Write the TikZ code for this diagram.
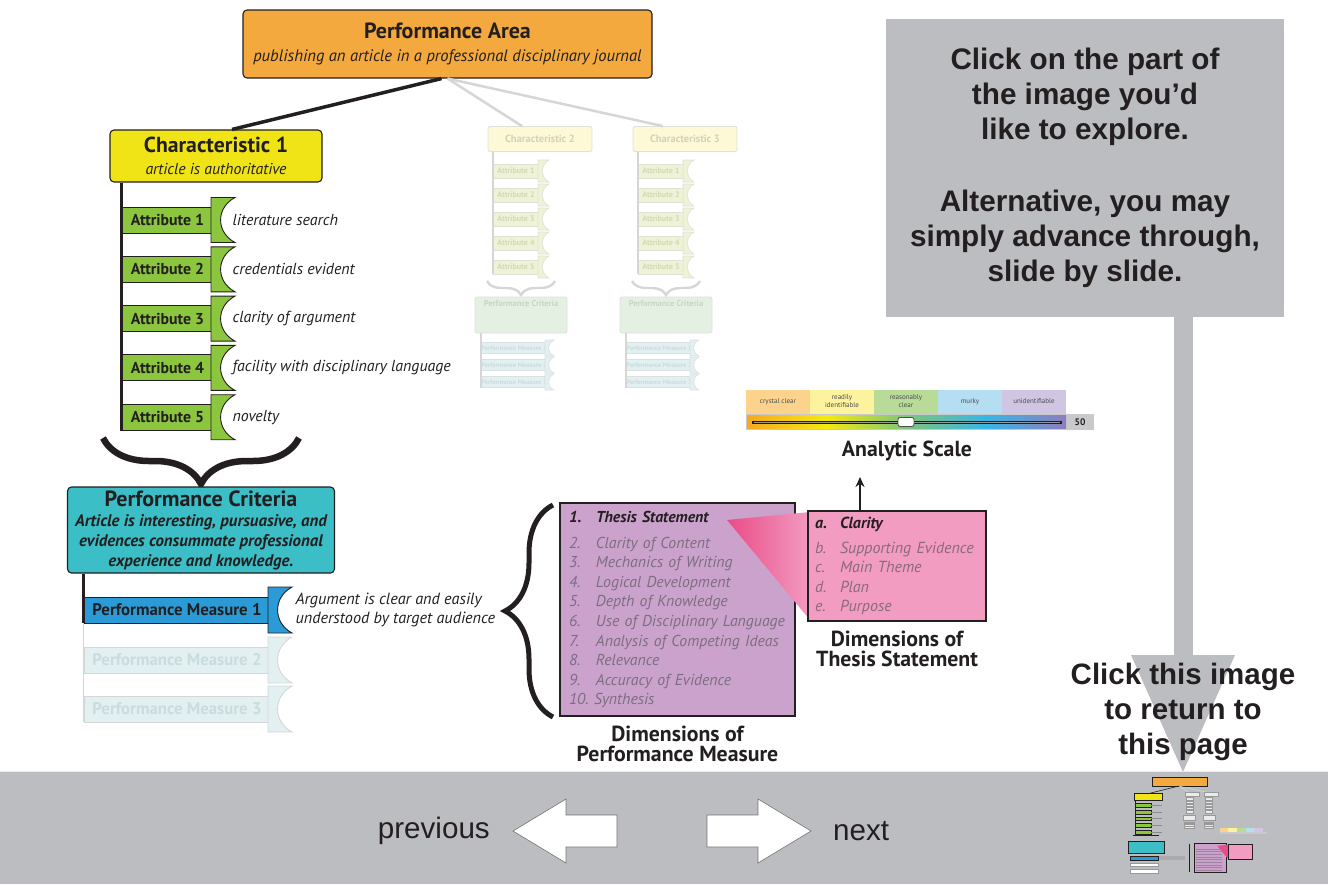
\documentclass[tikz,border=0pt]{standalone}
\usepackage{fontspec}
\setmainfont{PT Sans}
\newfontfamily\arialfont{Liberation Sans}
\usetikzlibrary{positioning,decorations.pathreplacing,arrows.meta}

\definecolor{ink}{HTML}{231F20}
\definecolor{paorange}{HTML}{F4A93E}
\definecolor{chyellow}{HTML}{F0E417}
\definecolor{attrgreen}{HTML}{8CC63F}
\definecolor{critteal}{HTML}{3CBEC6}
\definecolor{pmblue}{HTML}{2B9BD7}
\definecolor{dimpurple}{HTML}{CBA2CC}
\definecolor{dimgrey}{HTML}{7C6E80}
\definecolor{thpink}{HTML}{F29CC2}
\definecolor{thdeep}{HTML}{E94C86}
\definecolor{thgrey}{HTML}{8A6A7C}
\definecolor{panelgrey}{HTML}{BCBDC1}
\definecolor{fadeline}{HTML}{D6D6D6}
\definecolor{fadeyellow}{HTML}{FDF8D6}
\definecolor{fadeyellowtxt}{HTML}{D4D1B8}
\definecolor{fadegreen}{HTML}{EEF2D6}
\definecolor{fadegreentxt}{HTML}{D3D9B4}
\definecolor{fadecrit}{HTML}{E4F1E2}
\definecolor{fadecrittxt}{HTML}{C6D7C3}
\definecolor{fadepm}{HTML}{E2F0F2}
\definecolor{fadepmtxt}{HTML}{CADCDF}
\definecolor{scA}{HTML}{FCD38D}
\definecolor{scB}{HTML}{FDF29E}
\definecolor{scC}{HTML}{B8DB98}
\definecolor{scD}{HTML}{B5DEF3}
\definecolor{scE}{HTML}{D0C6E4}
\definecolor{grA}{HTML}{F7A823}
\definecolor{grB}{HTML}{F5E90F}
\definecolor{grC}{HTML}{7CC57A}
\definecolor{grD}{HTML}{39B5E6}
\definecolor{grE}{HTML}{8E7DBE}
\definecolor{scalebar}{HTML}{C9C9CB}

\pgfdeclarehorizontalshading{scalegrad}{100bp}{color(0bp)=(grA); color(25bp)=(grA);
  color(37.5bp)=(grB); color(50bp)=(grC); color(62.5bp)=(grD); color(75bp)=(grE); color(100bp)=(grE)}

% tab that sits on the right end of a bar
\newcommand{\capat}[5]{\draw[#5] (#1,#2-#3) -- (#1+#4,#2-#3)
  .. controls (#1+0.2*#4,#2-0.55*#3) and (#1+0.2*#4,#2+0.55*#3) .. (#1+#4,#2+#3)
  -- (#1,#2+#3) -- cycle;}

\begin{document}
\begin{tikzpicture}[x=1pt, y=-1pt,
    every node/.style={text=ink},
    box/.style={draw=ink, line width=1.1pt, rounded corners=4pt, align=center, inner sep=1pt},
    pabox/.style={box, fill=paorange, minimum width=409, minimum height=68,
      font=\fontsize{16.6}{23}\selectfont},
    charbox/.style={box, fill=chyellow, minimum width=212, minimum height=52,
      font=\fontsize{15.8}{22}\selectfont},
    critbox/.style={box, fill=critteal, minimum width=267, minimum height=86,
      font=\fontsize{16.8}{20}\selectfont\bfseries\itshape},
    spine/.style={draw=ink, line width=2.2pt},
    fspine/.style={draw=fadeline, line width=1.6pt},
    attrbox/.style={draw=ink, line width=0.9pt, fill=attrgreen, minimum width=91,
      minimum height=26, inner sep=0pt, font=\fontsize{15.8}{17}\selectfont\bfseries},
    attrcap/.style={draw=ink, line width=0.9pt, fill=attrgreen},
    attrtext/.style={inner sep=0pt, font=\fontsize{15.9}{20}\selectfont\itshape},
    pmbox/.style={draw=ink, line width=0.9pt, fill=pmblue, minimum width=186,
      minimum height=26, inner sep=0pt, font=\fontsize{16.8}{18}\selectfont\bfseries},
    pmcap/.style={draw=ink, line width=0.9pt, fill=pmblue},
    fpmbox/.style={pmbox, draw=fadeline, fill=fadepm, text=fadepmtxt},
    fpmcap/.style={draw=fadeline, line width=0.9pt, fill=fadepm},
    fchar/.style={draw=fadeline!70!fadeyellow, line width=0.8pt, rounded corners=2pt,
      fill=fadeyellow, minimum width=104, minimum height=25, inner sep=0pt,
      text=fadeyellowtxt, font=\fontsize{10.5}{12}\selectfont\bfseries},
    fattr/.style={draw=fadeline!60!fadegreen, line width=0.6pt, fill=fadegreen,
      minimum width=45, minimum height=14, inner sep=0pt, text=fadegreentxt,
      font=\fontsize{8}{9}\selectfont\bfseries},
    fattrcap/.style={draw=fadeline!60!fadegreen, line width=0.6pt, fill=fadegreen},
    fcrit/.style={draw=fadeline!60!fadecrit, line width=0.8pt, rounded corners=2pt,
      fill=fadecrit, minimum width=92, minimum height=36, inner sep=0pt},
    fpm/.style={draw=fadeline!60!fadepm, line width=0.6pt, fill=fadepm,
      minimum width=62, minimum height=11, inner sep=0pt, text=fadepmtxt,
      font=\fontsize{6.5}{7}\selectfont\bfseries},
    fpmcap2/.style={draw=fadeline!60!fadepm, line width=0.6pt, fill=fadepm},
    bigbrace/.style={decorate, decoration={brace, amplitude=46pt, mirror}, draw=ink,
      line width=6.5pt},
    fbrace/.style={decorate, decoration={brace, amplitude=14pt, mirror}, draw=fadeline,
      line width=2.4pt},
    dimbox/.style={draw=ink, line width=1.1pt, fill=dimpurple, minimum width=235,
      minimum height=213, text width=217, align=left, inner sep=0pt,
      font=\fontsize{15.8}{19.6}\selectfont\itshape, text=dimgrey},
    thbox/.style={draw=ink, line width=1.1pt, fill=thpink, minimum width=178,
      minimum height=110, text width=164, align=left, inner sep=0pt,
      font=\fontsize{16}{19.6}\selectfont\itshape, text=thgrey},
    caption/.style={inner sep=0pt, align=center, font=\fontsize{21.8}{20.5}\selectfont\bfseries},
    cell/.style={minimum width=64, minimum height=24, inner sep=0pt, align=center,
      text=black!70, font=\fontsize{7}{8}\selectfont},
    helpbox/.style={fill=panelgrey, minimum width=398, minimum height=298, align=center,
      font=\arialfont\bfseries\fontsize{29.7}{35}\selectfont},
    navtext/.style={inner sep=0pt, font=\arialfont\fontsize{29.6}{30}\selectfont},
    navarrow/.style={fill=white, draw=black!55, line width=0.6pt},
    uparrow/.style={-{Stealth[length=10pt,width=9pt]}, draw=ink, line width=1.6pt}]
  \useasboundingbox (0,0) rectangle (1328,884);

  % top of the hierarchy
  \node[pabox] (pa) at (447.5,44) {{\bfseries\fontsize{22}{23}\selectfont Performance Area}\\
    {\itshape publishing an article in a professional disciplinary journal}};
  \node[charbox] (c1) at (216,156) {{\bfseries\fontsize{21.7}{22}\selectfont Characteristic 1}\\
    {\itshape article is authoritative}};
  \draw[ink, line width=3.5pt] ([xshift=-6pt]pa.south) -- ([xshift=16pt]c1.north);

  % characteristic 1 and its attributes
  \node[attrbox] (a1) at (167.5,220) {Attribute 1};
  \node[attrbox] (a2) at (167.5,269.3) {Attribute 2};
  \node[attrbox] (a3) at (167.5,318.6) {Attribute 3};
  \node[attrbox] (a4) at (167.5,367.9) {Attribute 4};
  \node[attrbox] (a5) at (167.5,417.2) {Attribute 5};
  \draw[spine] (a1.west |- c1.south) -- (a5.south west);
  \capat{211}{220}{22.5}{24}{attrcap}
  \capat{211}{269.3}{22.5}{24}{attrcap}
  \capat{211}{318.6}{22.5}{24}{attrcap}
  \capat{211}{367.9}{22.5}{24}{attrcap}
  \capat{211}{417.2}{22.5}{24}{attrcap}
  \node[attrtext, right=19pt of a1] (l1) {literature search};
  \node[attrtext, right=19pt of a2] (l2) {credentials evident};
  \node[attrtext, right=19pt of a3] (l3) {clarity of argument};
  \node[attrtext, right=19pt of a4] (l4) {facility with disciplinary language};
  \node[attrtext, right=19pt of a5] (l5) {novelty};

  \draw[bigbrace] (103,438) -- (299,438);
  \node[critbox] (pc) at (201,530) {{\upshape\fontsize{22}{21}\selectfont Performance Criteria}\\
    Article is interesting, pursuasive, and\\ evidences consummate professional\\
    experience and knowledge.};

  % performance measures
  \node[pmbox] (pm1) at (177,610) {Performance Measure 1};
  \node[fpmbox] (pm2) at (177,660) {Performance Measure 2};
  \node[fpmbox] (pm3) at (177,709) {Performance Measure 3};
  \draw[fspine] (pm1.south west) -- (pm3.south west);
  \draw[spine] (pm1.west |- pc.south) -- (pm1.south west);
  \capat{268}{610}{23}{24}{pmcap}
  \capat{268}{660}{23}{24}{fpmcap}
  \capat{268}{709}{23}{24}{fpmcap}
  \node[attrtext, right=25pt of pm1, align=left, font=\fontsize{16.2}{19}\selectfont\itshape] (pml)
    {Argument is clear and easily\\understood by target audience};

  % characteristics 2 and 3, faded
  \foreach \n/\cx in {2/0,3/145}{
    \node[fchar] (c\n) at (540+\cx,139) {Characteristic \n};
    \foreach \i/\yy in {1/171,2/195,3/219,4/243,5/267}{
      \node[fattr] (f\n-\i) at (516+\cx,\yy) {Attribute \i};
      \capat{538+\cx}{\yy}{11}{11}{fattrcap}
    }
    \draw[fspine] (f\n-1.west |- c\n.south) -- (f\n-5.south west);
    \draw[fbrace] (487+\cx,281) -- (555+\cx,281);
    \node[fcrit, label={[anchor=north, yshift=-4pt, inner sep=0pt, text=fadecrittxt,
      font=\fontsize{8.5}{9}\selectfont\bfseries]north:Performance Criteria}]
      (fc\n) at (521+\cx,315) {};
    \foreach \j/\yy in {1/348,2/365,3/382}{
      \node[fpm] (fp\n-\j) at (514+\cx,\yy) {Performance Measure \j};
      \capat{545+\cx}{\yy}{8}{9}{fpmcap2}
    }
    \draw[fspine] (fp\n-1.west |- fc\n.south) -- (fp\n-3.south west);
  }
  \draw[fadeline, line width=2.5pt] (pa.south) -- ([xshift=-18pt]c2.north);
  \draw[fadeline, line width=2.5pt] (pa.south) -- ([xshift=-22pt]c3.north);

  % dimensions of the performance measure
  \draw[decorate, decoration={brace, amplitude=48pt, mirror}, draw=ink, line width=5pt]
    (553,505) -- (553,717);
  \node[dimbox] (dpm) at (677.5,609.5) {%
    \begin{tabular}{@{}p{27pt}@{}l@{}}
      \textcolor{ink}{\bfseries 1.} & \textcolor{ink}{\bfseries Thesis Statement}\\[6.4pt]
      2. & Clarity of Content\\
      3. & Mechanics of Writing\\
      4. & Logical Development\\
      5. & Depth of Knowledge\\
      6. & Use of Disciplinary Language\\
      7. & Analysis of Competing Ideas\\
      8. & Relevance\\
      9. & Accuracy of Evidence\\
      \multicolumn{2}{@{}l@{}}{10.\ Synthesis}
    \end{tabular}};
  \node[caption, below=9pt of dpm] (dpmcap) {Dimensions of\\Performance Measure};

  % dimensions of the thesis statement
  \shade[left color=thdeep, right color=thpink] (727,520) -- (810,512) -- (810,620) -- cycle;
  \node[thbox] (dts) at (897,566) {%
    \begin{tabular}{@{}p{25pt}@{}l@{}}
      \textcolor{ink}{\bfseries a.} & \textcolor{ink}{\bfseries Clarity}\\[5.4pt]
      b. & Supporting Evidence\\
      c. & Main Theme\\
      d. & Plan\\
      e. & Purpose
    \end{tabular}};
  \node[caption, below=9pt of dts] (dtscap) {Dimensions of\\Thesis Statement};

  % analytic scale
  \node[cell, fill=scA] (s1) at (778,401.5) {crystal clear};
  \node[cell, fill=scB] (s2) at (842,401.5) {readily\\identifiable};
  \node[cell, fill=scC] (s3) at (906,401.5) {reasonably\\clear};
  \node[cell, fill=scD] (s4) at (970,401.5) {murky};
  \node[cell, fill=scE] (s5) at (1034,401.5) {unidentifiable};
  \fill[scalebar] (746,413.5) rectangle (1094,430);
  \shade[shading=scalegrad] (747,415.5) rectangle (1066,428.5);
  \draw[ink, line width=3pt] (752,422) -- (1062,422);
  \draw[black!40, line width=0.6pt] (754,422) -- (1060,422);
  \draw[fill=white, draw=black!70, line width=0.8pt, rounded corners=2pt] (898,417.5) rectangle (914,426.5);
  \node[inner sep=0pt, font=\fontsize{9.5}{10}\selectfont\bfseries] (sval) at (1080,422) {50};
  \node[caption] (ascale) at (907,451) {Analytic Scale};
  \coordinate (arrtop) at (860,477);
  \draw[uparrow] (arrtop |- dts.north) -- (arrtop);

  % help panel and its arrow
  \node[helpbox] (help) at (1085,167.5) {Click on the part of\\the image you’d\\like to explore.\\[37pt]
    Alternative, you may\\simply advance through,\\slide by slide.};
  \fill[panelgrey] (1174,316) rectangle (1193,657);
  \fill[panelgrey] (1131,655) -- (1235,655) -- (1183,772) -- cycle;
  \node[align=center, inner sep=0pt, font=\arialfont\bfseries\fontsize{29.5}{35}\selectfont]
    (back) at (1183,712) {Click this image\\to return to\\this page};

  % navigation bar
  \fill[panelgrey] (0,771) rectangle (1328,884);
  \draw[white!70!panelgrey, line width=1pt] (0,771) -- (1328,771);
  \draw[navarrow] (513,831) -- (566,799) -- (566,815) -- (617,815) -- (617,847) -- (566,847)
    -- (566,863) -- cycle;
  \draw[navarrow] (707,815) -- (758,815) -- (758,799) -- (811,831) -- (758,863) -- (758,847)
    -- (707,847) -- cycle;
  \node[navtext, anchor=east] (prev) at (490,831) {previous};
  \node[navtext, anchor=west] (next) at (833,831) {next};

  % small copy of the page
  \begin{scope}[shift={(1119,775.6)}, scale=0.135]
    \filldraw[fill=paorange, draw=ink, line width=0.3pt] (243,10) rectangle (652,78);
    \draw[ink, line width=0.6pt] (440,78) -- (232,130);
    \draw[white!85!black, line width=0.5pt] (447,78) -- (522,126) (447,78) -- (663,126);
    \filldraw[fill=chyellow, draw=ink, line width=0.3pt] (110,130) rectangle (322,182);
    \draw[ink, line width=0.5pt] (122,182) -- (122,430);
    \foreach \yy in {220,269,318,368,417}{
      \filldraw[fill=attrgreen, draw=ink, line width=0.3pt] (122,\yy-13) rectangle (235,\yy+13);
      \fill[black!45] (240,\yy-3) rectangle (320,\yy+3);
    }
    \foreach \cx in {0,145}{
      \filldraw[fill=white!92!black, draw=black!40, line width=0.3pt] (488+\cx,126) rectangle (592+\cx,151);
      \foreach \yy in {171,195,219,243,267}{
        \filldraw[fill=white!92!black, draw=black!40, line width=0.3pt] (494+\cx,\yy-8) rectangle (548+\cx,\yy+8);
      }
      \filldraw[fill=white!92!black, draw=black!40, line width=0.3pt] (475+\cx,296) rectangle (567+\cx,333);
      \foreach \yy in {348,365,382}{
        \filldraw[fill=white!92!black, draw=black!40, line width=0.3pt] (483+\cx,\yy-6) rectangle (553+\cx,\yy+6);
      }
    }
    \draw[ink, line width=1pt] (103,445) -- (299,445);
    \filldraw[fill=critteal, draw=ink, line width=0.3pt] (68,487) rectangle (334,573);
    \filldraw[fill=pmblue, draw=ink, line width=0.3pt] (84,597) rectangle (292,623);
    \filldraw[fill=white, draw=black!40, line width=0.3pt] (84,647) rectangle (292,673);
    \filldraw[fill=white, draw=black!40, line width=0.3pt] (84,696) rectangle (292,722);
    \fill[black!45] (298,600) rectangle (490,606) (298,615) rectangle (490,621);
    \fill[scA] (746,389) rectangle (810,414);
    \fill[scB] (810,389) rectangle (874,414);
    \fill[scC] (874,389) rectangle (938,414);
    \fill[scD] (938,389) rectangle (1002,414);
    \fill[scE] (1002,389) rectangle (1066,414);
    \fill[scalebar] (746,414) rectangle (1094,430);
    \draw[ink, line width=0.8pt] (520,505) -- (520,717);
    \filldraw[fill=dimpurple, draw=ink, line width=0.3pt] (560,503) rectangle (795,716);
    \fill[thdeep] (727,520) -- (810,512) -- (810,620) -- cycle;
    \filldraw[fill=thpink, draw=ink, line width=0.3pt] (808,511) rectangle (986,621);
    \foreach \yy in {545,564,584,603,623,643,662,682,701}{
      \fill[dimgrey!60!dimpurple] (570,\yy-3) rectangle (760,\yy+3);
    }
  \end{scope}
\end{tikzpicture}
\end{document}
